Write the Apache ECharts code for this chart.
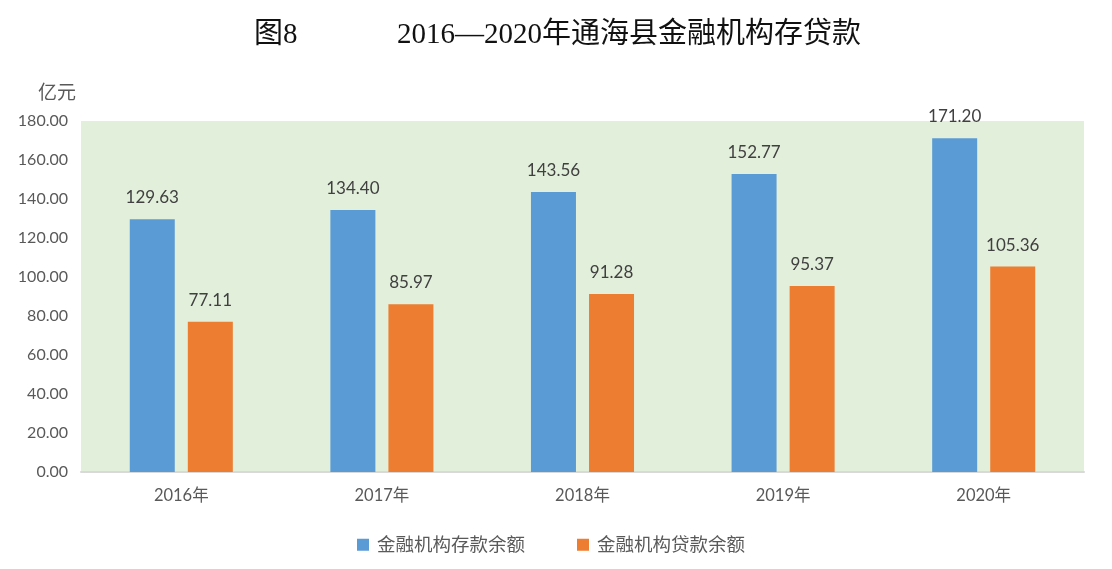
<!DOCTYPE html>
<html><head><meta charset="utf-8">
<script src="https://cdn.jsdelivr.net/npm/echarts@6/dist/echarts.min.js"></script>
<style>html,body{margin:0;padding:0;background:#fff}#c{width:1112px;height:569px}</style>
</head><body><div id="c"></div>
<script>
const categories = ['2016年','2017年','2018年','2019年','2020年'];
const deposits = [129.63, 134.40, 143.56, 152.77, 171.20];
const loans = [77.11, 85.97, 91.28, 95.37, 105.36];
const seriesNames = ['金融机构存款余额','金融机构贷款余额'];
const yTicks = {min:0, max:180, interval:20};

const latin = '"Lato","Open Sans","Noto Sans CJK SC",sans-serif';
const serif = '"Liberation Serif","Noto Sans CJK SC",serif';
const chart = echarts.init(document.getElementById('c'));
const labelCfg = {show:true, position:'top', distance:13, color:'#404040', fontSize:17, fontFamily:latin,
  formatter: p => p.value.toFixed(2)};
chart.setOption({
  animation:false,
  title:[
    {text:'图8', left:249, top:16, textStyle:{fontFamily:serif, fontSize:29, fontWeight:'normal', color:'#111'}},
    {text:'2016—2020年通海县金融机构存贷款', left:392, top:16, textStyle:{fontFamily:serif, fontSize:29, fontWeight:'normal', color:'#111'}}
  ],
  grid:{left:81, right:28, top:121, bottom:97, show:true, backgroundColor:'#E2EFDA', borderWidth:0},
  legend:{bottom:10, left:352, itemWidth:12, itemHeight:12, itemGap:52, icon:'rect',
    textStyle:{fontSize:18.5, color:'#595959', fontFamily:latin, padding:[0,0,0,3]}, data:seriesNames},
  xAxis:{type:'category', data:categories,
    axisLine:{lineStyle:{color:'#D9D9D9', width:2}}, axisTick:{show:false},
    axisLabel:{color:'#595959', fontSize:16.5, fontFamily:latin, margin:15}},
  yAxis:{type:'value', min:yTicks.min, max:yTicks.max, interval:yTicks.interval,
    name:'亿元', nameLocation:'end', nameGap:19,
    nameTextStyle:{color:'#595959', fontSize:19, fontFamily:latin, align:'right', padding:[0,5,0,0]},
    axisLine:{show:false}, axisTick:{show:false}, splitLine:{show:false},
    axisLabel:{color:'#595959', fontSize:16, fontFamily:latin, margin:13, formatter:v=>v.toFixed(2)}},
  series:[
    {name:seriesNames[0], type:'bar', data:deposits, barWidth:45, barGap:'29%', itemStyle:{color:'#5B9BD5'}, label:labelCfg},
    {name:seriesNames[1], type:'bar', data:loans, barWidth:45, itemStyle:{color:'#ED7D31'}, label:labelCfg}
  ]
});
</script></body></html>
